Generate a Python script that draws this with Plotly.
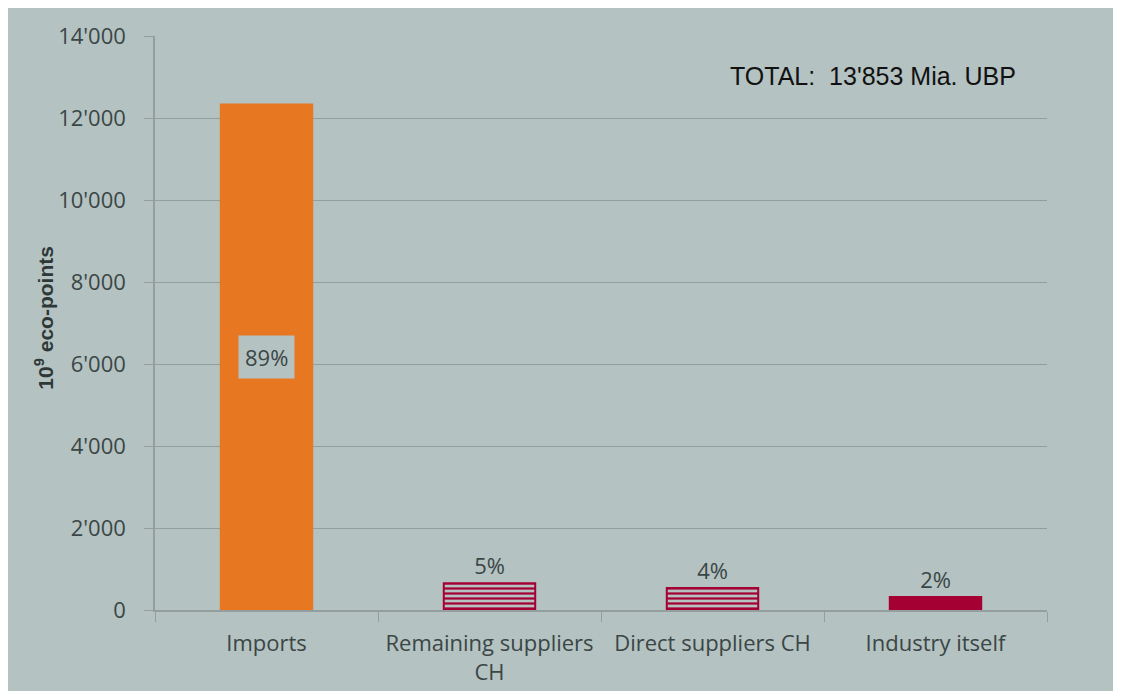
import plotly.graph_objects as go

categories = ["Imports", "Remaining suppliers<br>CH", "Direct suppliers CH", "Industry itself"]
values = [12330, 650, 535, 315]
shares = ["89%", "5%", "4%", "2%"]
total_label = "TOTAL:  13'853 Mia. UBP"
y_title = "<b>10<sup>9</sup> eco-points</b>"
y_ticks = [0, 2000, 4000, 6000, 8000, 10000, 12000, 14000]
y_ticktext = ["0", "2'000", "4'000", "6'000", "8'000", "10'000", "12'000", "14'000"]

BG = "#b4c2c1"
ORANGE = "#e87722"
CRIMSON = "#a50034"
TXT = "#3b4646"
GRID = "#949e9e"

fig = go.Figure()
fig.add_trace(go.Bar(
    x=categories, y=values, width=0.41,
    marker=dict(
        color=[ORANGE, CRIMSON, CRIMSON, CRIMSON],
        line=dict(color=[ORANGE, CRIMSON, CRIMSON, CRIMSON], width=2),
        pattern=dict(shape=["", "-", "-", ""], fillmode="replace", bgcolor=BG,
                     size=5, solidity=0.45),
    ),
    text=[""] + shares[1:], textposition="outside",
    textfont=dict(family="Open Sans, Arial", size=22, color=TXT),
    cliponaxis=False, showlegend=False,
))

# share label inside the big bar
fig.add_annotation(x=categories[0], y=values[0] / 2, text=shares[0],
                   showarrow=False, bgcolor=BG, borderpad=6,
                   font=dict(family="Open Sans, Arial", size=22, color=TXT))
fig.add_annotation(xref="paper", yref="paper", x=0.9675, y=0.93,
                   xanchor="right", yanchor="middle",
                   text=total_label, showarrow=False,
                   font=dict(family="Liberation Sans, Arial", size=25, color="#111111"))
fig.add_annotation(xref="paper", yref="paper", x=-0.124, y=0.51,
                   xanchor="center", yanchor="middle", textangle=-90,
                   text=y_title, showarrow=False,
                   font=dict(family="Liberation Sans Narrow, Arial Narrow, Arial",
                             size=21, color="#2f3838"))

fig.update_layout(
    width=1121, height=691,
    paper_bgcolor=BG, plot_bgcolor=BG,
    margin=dict(l=147, r=82, t=24, b=89),
    font=dict(family="Open Sans, Arial", size=22, color=TXT),
)
fig.update_xaxes(
    showline=True, linecolor=GRID, linewidth=1.5,
    ticks="outside", tickson="boundaries", ticklen=10, tickcolor=GRID,
    ticklabelstandoff=13,
    tickfont=dict(size=22, color=TXT),
)
fig.update_yaxes(
    range=[0, 14000], tickvals=y_ticks, ticktext=y_ticktext,
    showgrid=True, gridcolor=GRID, gridwidth=1.2,
    showline=True, linecolor=GRID, linewidth=1.5,
    ticks="outside", ticklen=9, tickcolor=GRID,
    ticklabelstandoff=14,
    tickfont=dict(size=22, color=TXT), zeroline=False,
)

fig.write_html("out.html")
